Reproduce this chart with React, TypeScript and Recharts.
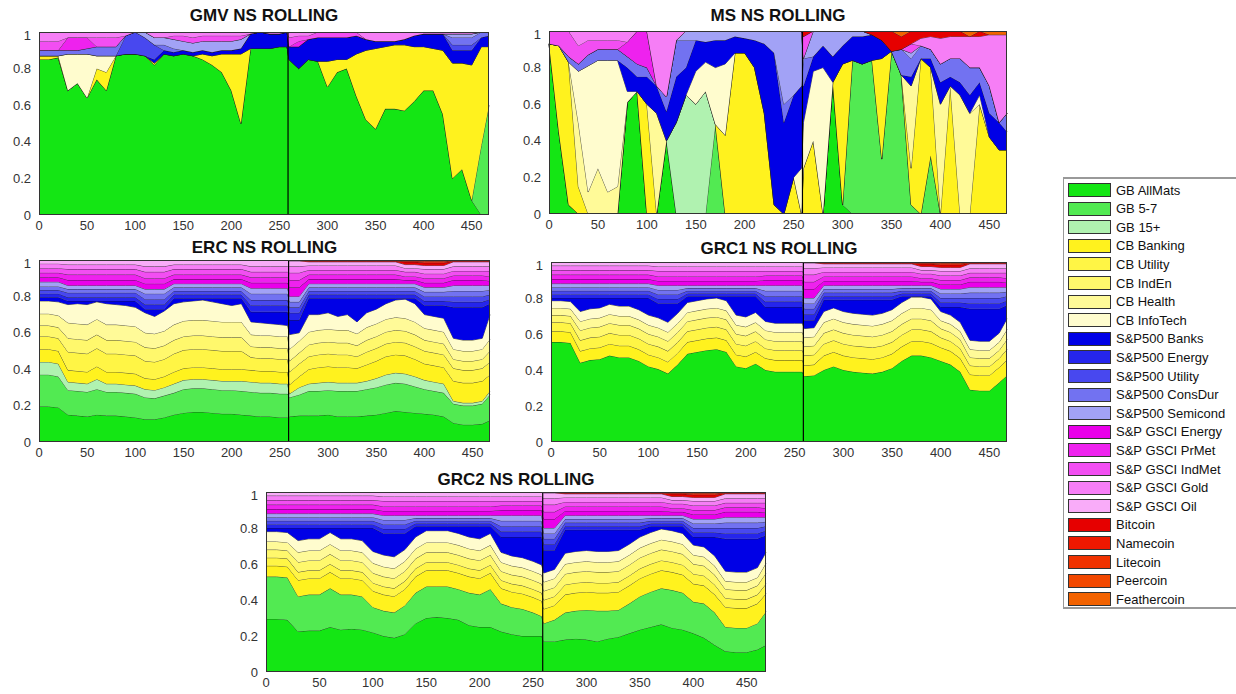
import React from 'react';
import { AreaChart, Area, XAxis, YAxis, ReferenceLine } from 'recharts';

const font = "'Liberation Sans', Arial, sans-serif";

// sample positions (window index); the break between the two samples is at 259
const steps = [0, 10, 20, 30, 40, 50, 60, 70, 80, 90, 100, 110, 120, 130, 140, 150, 160, 170, 180, 190, 200, 210, 220, 230, 240, 250, 258, 260, 270, 280, 290, 300, 310, 320, 330, 340, 350, 360, 370, 380, 390, 400, 410, 420, 430, 440, 450, 460, 468];
const xTicks = [0, 50, 100, 150, 200, 250, 300, 350, 400, 450];
const yTicks = [0, 0.2, 0.4, 0.6, 0.8, 1];

const seriesNames = ['GB AllMats', 'GB 5-7', 'GB 15+', 'CB Banking', 'CB Utility', 'CB IndEn', 'CB Health', 'CB InfoTech', 'S&P500 Banks', 'S&P500 Energy', 'S&P500 Utility', 'S&P500 ConsDur', 'S&P500 Semicond', 'S&P GSCI Energy', 'S&P GSCI PrMet', 'S&P GSCI IndMet', 'S&P GSCI Gold', 'S&P GSCI Oil', 'Bitcoin', 'Namecoin', 'Litecoin', 'Peercoin', 'Feathercoin'];
const seriesColors = ['#14e614', '#52ea52', '#b0f2b0', '#fff21e', '#fff545', '#fff86c', '#fffa98', '#fffcce', '#0000e6', '#2525ec', '#4848ef', '#7272f1', '#a2a2f6', '#ea00ea', '#ee22ee', '#f24ef2', '#f67ef6', '#f9acf9', '#e60000', '#ee1800', '#f03200', '#f24800', '#f26200'];

// GMV weights (%)
const gmvAllMats = [85, 85, 86, 68, 72, 64, 74, 68, 87, 88, 88, 87, 82, 88, 87, 88, 87, 85, 82, 78, 68, 50, 91, 91, 91, 92, 92, 85, 80, 85, 84, 70, 78, 80, 65, 52, 47, 58, 58, 57, 62, 68, 68, 55, 20, 25, 8, 0, 0];
const gmvGb57 = [0, 0, 0, 0, 0, 0, 0, 0, 0, 0, 0, 0, 0, 0, 0, 0, 0, 0, 0, 0, 0, 0, 0, 0, 0, 0, 0, 0, 0, 0, 0, 0, 0, 0, 0, 0, 0, 0, 0, 0, 0, 0, 0, 0, 0, 0, 0, 38, 60];
const gmvBanking = [2, 2, 1, 0, 0, 0, 6, 10, 0, 0, 0, 0, 1, 0, 0, 0, 0, 3, 5, 10, 20, 38, 0, 0, 0, 0, 0, 0, 0, 0, 0, 14, 7, 5, 23, 38, 44, 34, 35, 36, 30, 24, 23, 35, 63, 58, 74, 54, 32];
const gmvInfoTech = [0, 0, 0, 20, 16, 24, 7, 9, 0, 0, 0, 0, 0, 0, 0, 0, 0, 0, 0, 0, 0, 0, 0, 0, 0, 0, 0, 0, 0, 0, 0, 0, 0, 0, 0, 0, 0, 0, 0, 0, 0, 0, 0, 0, 0, 0, 0, 0, 0];
const gmvSpBanks = [0, 0, 0, 0, 0, 0, 0, 0, 0, 0, 0, 0, 2, 2, 2, 2, 2, 2, 2, 2, 2, 3, 8, 9, 8, 7, 8, 7, 12, 11, 13, 13, 12, 12, 10, 6, 4, 3, 2, 3, 6, 7, 8, 9, 7, 7, 8, 5, 6];
const gmvSpUtility = [0, 0, 0, 0, 0, 0, 0, 0, 0, 10, 12, 10, 8, 0, 0, 0, 0, 0, 0, 0, 0, 0, 0, 0, 0, 0, 0, 0, 0, 0, 0, 0, 0, 0, 0, 0, 0, 0, 0, 0, 0, 0, 0, 0, 3, 3, 3, 0, 0];
const gmvSpConsDur = [3, 3, 3, 2, 2, 3, 5, 5, 5, 0, 0, 0, 0, 3, 2, 0, 0, 0, 0, 0, 0, 0, 0, 0, 0, 0, 0, 0, 0, 0, 0, 0, 0, 0, 0, 0, 0, 0, 0, 0, 0, 0, 0, 0, 4, 4, 4, 3, 2];
const gmvSpSemi = [0, 0, 0, 0, 0, 0, 0, 0, 0, 0, 0, 3, 4, 4, 5, 5, 5, 5, 6, 5, 5, 5, 0, 0, 0, 0, 0, 0, 0, 0, 0, 0, 0, 0, 0, 0, 0, 0, 0, 0, 0, 0, 0, 0, 2, 2, 2, 0, 0];
const gmvGsPrMet = [0, 0, 0, 7, 7, 6, 0, 0, 0, 0, 0, 0, 0, 0, 0, 0, 0, 0, 0, 0, 0, 0, 0, 0, 0, 0, 0, 0, 3, 0, 0, 0, 0, 0, 0, 0, 0, 0, 0, 0, 0, 0, 0, 0, 0, 0, 0, 0, 0];
const gmvGsIndMet = [5, 5, 5, 0, 0, 0, 5, 5, 5, 0, 0, 0, 0, 0, 2, 3, 3, 3, 3, 3, 3, 2, 0, 0, 0, 0, 0, 5, 3, 2, 3, 3, 3, 3, 2, 0, 0, 0, 0, 0, 0, 0, 0, 0, 0, 0, 0, 0, 0];
const gmvGsGold = [5, 5, 5, 3, 3, 3, 3, 3, 3, 2, 0, 0, 3, 3, 2, 2, 3, 2, 2, 2, 2, 2, 1, 0, 1, 1, 0, 3, 2, 2, 0, 0, 0, 0, 0, 4, 5, 5, 5, 4, 2, 1, 1, 1, 1, 1, 1, 0, 0];

// MS weights (%)
const msAllMats = [93, 45, 5, 0, 0, 0, 0, 0, 61, 67, 0, 0, 40, 0, 0, 0, 0, 0, 0, 0, 0, 0, 0, 0, 0, 0, 0, 0, 0, 0, 72, 5, 0, 0, 0, 0, 0, 0, 0, 0, 0, 0, 0, 0, 0, 0, 0, 0, 0];
const msGb57 = [0, 0, 0, 0, 0, 0, 0, 0, 0, 0, 0, 0, 0, 0, 0, 0, 0, 49, 0, 0, 0, 0, 0, 0, 0, 0, 0, 0, 0, 0, 0, 0, 84, 82, 84, 30, 89, 76, 5, 0, 32, 0, 0, 0, 0, 0, 0, 0, 0];
const msGb15 = [0, 0, 0, 0, 0, 0, 0, 0, 0, 0, 0, 0, 0, 50, 65, 60, 67, 0, 0, 0, 0, 0, 0, 0, 0, 0, 0, 0, 0, 0, 0, 0, 0, 0, 0, 0, 0, 0, 0, 0, 0, 0, 0, 0, 0, 0, 0, 0, 0];
const msBanking = [0, 47, 78, 15, 0, 0, 0, 0, 0, 0, 60, 0, 0, 0, 0, 0, 0, 0, 43, 88, 88, 80, 55, 5, 0, 20, 0, 25, 40, 0, 0, 77, 0, 0, 0, 55, 0, 0, 20, 85, 48, 0, 70, 0, 0, 60, 42, 35, 35];
const msHealth = [0, 0, 0, 35, 12, 25, 12, 15, 0, 0, 0, 55, 0, 0, 0, 0, 0, 0, 0, 0, 0, 0, 0, 0, 0, 0, 0, 0, 0, 0, 0, 0, 0, 0, 0, 0, 0, 0, 45, 0, 0, 60, 0, 65, 55, 0, 0, 0, 0];
const msInfoTech = [0, 0, 0, 28, 69, 59, 72, 69, 6, 0, 0, 0, 0, 0, 0, 18, 16, 31, 39, 0, 0, 0, 0, 0, 0, 0, 25, 25, 38, 80, 0, 0, 0, 0, 0, 0, 0, 0, 0, 0, 0, 0, 0, 0, 0, 5, 0, 0, 0];
const msSpBanks = [0, 0, 0, 0, 0, 0, 0, 0, 13, 8, 15, 15, 16, 25, 15, 17, 11, 15, 13, 9, 8, 15, 38, 83, 50, 45, 45, 20, 8, 12, 14, 10, 13, 15, 14, 10, 0, 0, 5, 0, 5, 12, 5, 7, 10, 7, 13, 15, 10];
const msSpConsDur = [0, 0, 3, 4, 6, 6, 6, 6, 6, 7, 5, 0, 8, 20, 15, 0, 0, 0, 0, 0, 0, 0, 0, 0, 10, 0, 0, 15, 0, 0, 0, 0, 0, 0, 0, 0, 0, 14, 10, 7, 5, 10, 10, 13, 15, 8, 15, 0, 10];
const msSpSemi = [0, 0, 0, 0, 0, 0, 0, 0, 0, 0, 0, 0, 0, 0, 5, 5, 6, 5, 5, 3, 4, 5, 7, 12, 40, 35, 30, 0, 14, 8, 14, 8, 3, 3, 0, 0, 0, 0, 3, 0, 0, 0, 0, 0, 0, 0, 0, 0, 0];
const msGsPrMet = [0, 0, 0, 0, 0, 0, 0, 0, 8, 18, 20, 0, 0, 0, 0, 0, 0, 0, 0, 0, 0, 0, 0, 0, 0, 0, 0, 0, 0, 0, 0, 0, 0, 0, 0, 0, 0, 0, 0, 0, 0, 0, 0, 0, 0, 0, 0, 0, 0];
const msGsIndMet = [7, 8, 14, 10, 8, 5, 5, 5, 0, 0, 0, 0, 0, 0, 0, 0, 0, 0, 0, 0, 0, 0, 0, 0, 0, 0, 0, 12, 0, 0, 0, 0, 0, 0, 0, 0, 0, 0, 5, 0, 0, 0, 0, 0, 0, 0, 0, 0, 0];
const msGsGold = [0, 0, 0, 8, 5, 5, 5, 5, 6, 0, 0, 30, 36, 5, 0, 0, 0, 0, 0, 0, 0, 0, 0, 0, 0, 0, 0, 0, 0, 0, 0, 0, 0, 0, 0, 0, 0, 0, 0, 4, 7, 14, 12, 12, 17, 17, 28, 48, 43];
const msBitcoin = [0, 0, 0, 0, 0, 0, 0, 0, 0, 0, 0, 0, 0, 0, 0, 0, 0, 0, 0, 0, 0, 0, 0, 0, 0, 0, 0, 3, 0, 0, 0, 0, 0, 0, 2, 5, 11, 7, 7, 4, 3, 4, 3, 3, 0, 3, 0, 0, 0];
const msFeathercoin = [0, 0, 0, 0, 0, 0, 0, 0, 0, 0, 0, 0, 0, 0, 0, 0, 0, 0, 0, 0, 0, 0, 0, 0, 0, 0, 0, 0, 0, 0, 0, 0, 0, 0, 0, 0, 0, 3, 0, 0, 0, 0, 0, 0, 3, 0, 2, 2, 2];

// ERC weights (%)
const ercAllMats = [19.5, 19.5, 19, 15, 14.5, 14, 15, 14.5, 14.5, 14, 13.5, 12.5, 12.5, 13.5, 15, 16, 16.5, 16.5, 16, 15.5, 15.5, 15, 14.5, 14, 14, 13.5, 13.5, 14, 14.5, 14.5, 14.5, 15, 14, 14, 14, 14.5, 15, 16, 17, 16.5, 16, 15.5, 15, 14, 10.5, 9.5, 9.5, 10, 12];
const ercGb57 = [17.5, 17.5, 17, 13.5, 13.5, 13.5, 14, 13, 13, 13, 13, 12, 11.5, 12, 12, 13, 13, 13, 13, 13, 13, 13, 13, 13, 13, 13, 13, 10.5, 11.5, 13.5, 13.5, 13.5, 14, 14, 14, 14.5, 15, 15.5, 15.5, 15.5, 14.5, 13.5, 13, 13, 10.5, 10.5, 10.5, 11, 14];
const ercGb15 = [7, 7, 7, 4.5, 4.5, 4.5, 5.5, 4.5, 4.5, 4.5, 4.5, 4.5, 4.5, 4.5, 5, 5, 5, 5, 5, 5, 5, 5.5, 5.5, 5.5, 5.5, 5.5, 5.5, 2, 4, 4, 4.5, 4.5, 4.5, 4.5, 4.5, 4.5, 5, 5.5, 5.5, 5.5, 5.5, 5, 5, 5, 1.5, 1.5, 1.5, 1.5, 2];
const ercBanking = [7, 7, 7, 6.5, 6.5, 6.5, 7, 6.5, 6.5, 6.5, 6.5, 6, 6, 6, 6.5, 6.5, 6.5, 6.5, 6.5, 6.5, 6.5, 6.5, 6.5, 6.5, 6.5, 6.5, 6.5, 5, 6, 8, 8.5, 8.5, 8.5, 8.5, 8, 9, 9.5, 10, 10, 10, 9.5, 9, 9, 9, 11, 11, 11, 11, 9];
const ercUtility = [7, 7, 7, 10, 10, 10, 10, 10, 10, 10, 10, 9.5, 9.5, 9.5, 10, 10, 10, 10, 10, 10, 10, 10, 7, 7, 7, 7, 7, 7, 7, 7, 7, 7, 7, 7, 6.5, 7, 7, 7, 7, 7, 7, 7, 7, 7, 7, 7, 7, 7, 7];
const ercIndEn = [6, 6, 6, 7.5, 7.5, 7.5, 7.5, 7.5, 7.5, 7.5, 7.5, 7.5, 7.5, 7.5, 7.5, 7.5, 7.5, 7.5, 7.5, 7.5, 7.5, 7.5, 6, 6, 6, 6, 6, 6, 6, 6.5, 6.5, 6.5, 6.5, 6.5, 6, 6.5, 6.5, 6.5, 6.5, 6.5, 6.5, 6, 6, 6, 5, 5, 5, 5, 6];
const ercHealth = [6.5, 6.5, 6.5, 8.5, 8.5, 8.5, 8.5, 8.5, 8.5, 8.5, 8.5, 8, 8, 8, 8.5, 8.5, 8.5, 8.5, 8.5, 8.5, 8.5, 8.5, 6.5, 6.5, 6.5, 6.5, 6.5, 6.5, 6.5, 7, 7, 7, 7, 7, 6.5, 7, 7, 7, 7, 7, 7, 6.5, 6.5, 6.5, 5.5, 5.5, 5.5, 5.5, 6.5];
const ercInfoTech = [7, 7, 7.5, 10, 11, 11, 9.5, 11.5, 11, 11, 10.5, 11, 9.5, 11, 11.5, 10.5, 10.5, 11, 10.5, 10, 9, 10, 7, 7, 6.5, 6.5, 6, 8, 4.5, 9.5, 8.5, 9, 7.5, 8.5, 6.5, 8, 8, 8.5, 9.5, 10.5, 10, 7.5, 7.5, 7.5, 6, 6, 6, 6, 13.5];
const ercSpBanks = [2, 2, 2.5, 2, 1.5, 2, 0.5, 1.5, 2, 2.5, 3.5, 2, 4, 1, 3, 2, 1.5, 1, 2, 3, 4, 3, 5.5, 6, 6.5, 7, 7.5, 8, 7, 9, 9, 8, 10, 9, 13, 8, 6, 3, 1, 0.5, 3, 5, 6, 7, 17, 18, 18, 17, 6];
const ercSpEnergy = [2, 2, 2, 2, 2, 2, 2, 2, 2, 2, 2, 2.5, 2.5, 2.5, 2, 2, 2, 2, 2, 2, 2, 2, 3.5, 3.5, 3.5, 3.5, 3.5, 4, 4, 2, 2, 2, 2, 2, 2, 2, 2, 2, 2, 2, 2, 2.5, 2.5, 2.5, 3, 3, 3, 3, 2.5];
const ercSpUtility = [2, 2, 2, 2.5, 2.5, 2.5, 2.5, 2.5, 2.5, 2.5, 2.5, 3, 3, 3, 2, 2, 2, 2, 2, 2, 2, 2, 3, 3, 3, 3, 3, 3, 3, 2, 2, 2, 2, 2, 2, 2, 2, 2, 2, 2, 2, 2.5, 2.5, 2.5, 3, 3, 3, 3, 2.5];
const ercSpConsDur = [2, 2, 2, 2, 2, 2, 2, 2, 2, 2, 2, 3, 3, 3, 2, 2, 2, 2, 2, 2, 2, 2, 3.5, 3.5, 3.5, 3.5, 3.5, 3, 3, 2, 2, 2, 2, 2, 2, 2, 2, 2, 2, 2, 2, 2.5, 2.5, 2.5, 3, 3, 3, 3, 2.5];
const ercSpSemi = [2.5, 2.5, 2.5, 2, 2, 2, 2, 2, 2, 2, 2, 2.5, 2.5, 2.5, 2, 2, 2, 2, 2, 2, 2, 2, 3, 3, 3, 3, 3, 3, 3, 2, 2, 2, 2, 2, 2, 2, 2, 2, 2, 2, 2, 2.5, 2.5, 2.5, 3, 3, 3, 3, 2.5];
const ercGsEnergy = [2.5, 2.5, 2.5, 3, 3, 3, 3, 3, 3, 3, 3, 3, 3, 3, 2.5, 2.5, 2.5, 2.5, 2.5, 2.5, 2.5, 2.5, 3, 3, 3, 3, 3, 5, 5, 2.5, 2.5, 2.5, 2.5, 2.5, 2.5, 2.5, 2.5, 2.5, 2.5, 2, 2, 2.5, 2.5, 2.5, 3, 3, 3, 3, 2.5];
const ercGsPrMet = [2.5, 2.5, 2.5, 3, 3, 3, 3, 3, 3, 3, 3, 3, 3, 3, 2.5, 2.5, 2.5, 2.5, 2.5, 2.5, 2.5, 2.5, 3, 3, 3, 3, 3, 4, 4, 2.5, 2.5, 2.5, 2.5, 2.5, 2.5, 2.5, 2.5, 2.5, 2.5, 2, 2, 2.5, 2.5, 2.5, 2.5, 2.5, 2.5, 2.5, 2.5];
const ercGsIndMet = [2.5, 2.5, 2.5, 3, 3, 3, 3, 3, 3, 3, 3, 3.5, 3.5, 3.5, 3, 3, 3, 3, 3, 3, 3, 3, 3, 3, 3, 3, 3, 4, 4, 2.5, 2.5, 2.5, 2.5, 2.5, 2.5, 2.5, 2.5, 2.5, 2.5, 2.5, 2.5, 2.5, 2.5, 2.5, 2.5, 2.5, 2.5, 2.5, 3];
const ercGsGold = [2.5, 2.5, 2.5, 2.5, 2.5, 2.5, 2.5, 2.5, 2.5, 2.5, 2.5, 3, 3, 3, 2.5, 2.5, 2.5, 2.5, 2.5, 2.5, 2.5, 2.5, 3, 3, 3, 3, 3, 3.5, 3.5, 2.5, 2.5, 2.5, 2.5, 2.5, 2.5, 2.5, 2.5, 2.5, 2.5, 2, 2, 2.5, 2.5, 2.5, 2.5, 2.5, 2.5, 2.5, 2.5];
const ercGsOil = [2, 2, 2, 2.5, 2.5, 2.5, 2.5, 2.5, 2.5, 2.5, 2.5, 3.5, 3.5, 3.5, 2.5, 2.5, 2.5, 2.5, 2.5, 2.5, 2.5, 2.5, 3.5, 3.5, 3.5, 3.5, 3.5, 3, 3, 2, 2, 2, 2, 2, 2, 2, 2, 2, 2, 2, 2, 2, 2, 2, 2.5, 2.5, 2.5, 2.5, 2.5];

// crypto weights, same reading for the ERC / GRC panels (%)
const rollBitcoin = [0, 0, 0, 0, 0, 0, 0, 0, 0, 0, 0, 0, 0, 0, 0, 0, 0, 0, 0, 0, 0, 0, 0, 0, 0, 0, 0, 0.5, 0.5, 0.5, 0.5, 0.5, 0.5, 0.5, 0.5, 0.5, 0.5, 0.5, 0.5, 1.5, 1.5, 1.5, 1.5, 1.5, 0.5, 0.5, 0.5, 0.5, 0.5];
const rollNamecoin = [0, 0, 0, 0, 0, 0, 0, 0, 0, 0, 0, 0, 0, 0, 0, 0, 0, 0, 0, 0, 0, 0, 0, 0, 0, 0, 0, 0, 0, 0.3, 0.3, 0.3, 0.3, 0.3, 0.3, 0.3, 0.3, 0.3, 0.3, 0.5, 0.5, 0.7, 0.7, 0.7, 0.3, 0.3, 0.3, 0.3, 0.3];
const rollLitecoin = [0, 0, 0, 0, 0, 0, 0, 0, 0, 0, 0, 0, 0, 0, 0, 0, 0, 0, 0, 0, 0, 0, 0, 0, 0, 0, 0, 0, 0, 0.2, 0.2, 0.2, 0.2, 0.2, 0.2, 0.2, 0.2, 0.2, 0.2, 0.3, 0.3, 0.5, 0.5, 0.5, 0.2, 0.2, 0.2, 0.2, 0.2];
const rollPeercoin = [0, 0, 0, 0, 0, 0, 0, 0, 0, 0, 0, 0, 0, 0, 0, 0, 0, 0, 0, 0, 0, 0, 0, 0, 0, 0, 0, 0, 0, 0, 0, 0, 0, 0, 0, 0, 0, 0, 0, 0.2, 0.2, 0.3, 0.3, 0.3, 0, 0, 0, 0, 0];

// thin top bands, same reading for GRC1 and GRC2 (%)
const grcSpEnergy = [2, 2, 2, 2, 2, 2, 2, 2, 2, 2, 2, 2.5, 2.5, 2.5, 1.5, 1.5, 1.5, 1.5, 1.5, 1.5, 1.5, 1.5, 3, 3, 3, 3, 3, 3.5, 3.5, 2, 2, 2, 2, 2, 2, 2, 2, 1.5, 1.5, 1.5, 1.5, 2.5, 2.5, 2.5, 3, 3, 3, 3, 2.5];
const grcSpThin = [2, 2, 2, 2, 2, 2, 2, 2, 2, 2, 2, 2.5, 2.5, 2.5, 1.5, 1.5, 1.5, 1.5, 1.5, 1.5, 1.5, 1.5, 3, 3, 3, 3, 3, 3, 3, 2, 2, 2, 2, 2, 2, 2, 2, 1.5, 1.5, 1.5, 1.5, 2.5, 2.5, 2.5, 3, 3, 3, 3, 2.5];
const grcGsEnergy = [2.5, 2.5, 2.5, 2.5, 2.5, 2.5, 2.5, 2.5, 2.5, 2.5, 2.5, 2.5, 2.5, 2.5, 2.5, 2.5, 2.5, 2.5, 2.5, 2.5, 2.5, 2.5, 3, 3, 3, 3, 3, 5, 5, 2.5, 2.5, 2.5, 2.5, 2.5, 2.5, 2.5, 2.5, 2.5, 2.5, 2, 2, 2.5, 2.5, 2.5, 3, 3, 3, 3, 2.5];
const grcGsPrMet = [2.5, 2.5, 2.5, 2.5, 2.5, 2.5, 2.5, 2.5, 2.5, 2.5, 2.5, 2.5, 2.5, 2.5, 2.5, 2.5, 2.5, 2.5, 2.5, 2.5, 2.5, 2.5, 2.5, 2.5, 2.5, 2.5, 2.5, 4, 4, 2.5, 2.5, 2.5, 2.5, 2.5, 2.5, 2.5, 2.5, 2.5, 2.5, 2, 2, 2.5, 2.5, 2.5, 2.5, 2.5, 2.5, 2.5, 2.5];
const grcGsIndMet = [2.5, 2.5, 2.5, 2.5, 2.5, 2.5, 2.5, 2.5, 2.5, 2.5, 2.5, 3, 3, 3, 3, 3, 3, 3, 3, 3, 3, 3, 2.5, 2.5, 2.5, 2.5, 2.5, 4, 4, 2.5, 2.5, 2.5, 2.5, 2.5, 2.5, 2.5, 2.5, 2.5, 2.5, 2.5, 2.5, 2.5, 2.5, 2.5, 2.5, 2.5, 2.5, 2.5, 3];
const grcGsGold = [2.5, 2.5, 2.5, 2.5, 2.5, 2.5, 2.5, 2.5, 2.5, 2.5, 2.5, 2.5, 2.5, 2.5, 2.5, 2.5, 2.5, 2.5, 2.5, 2.5, 2.5, 2.5, 2.5, 2.5, 2.5, 2.5, 2.5, 3.5, 3.5, 2.5, 2.5, 2.5, 2.5, 2.5, 2.5, 2.5, 2.5, 2.5, 2.5, 2, 2, 2.5, 2.5, 2.5, 2.5, 2.5, 2.5, 2.5, 2.5];
const grcGsOil = [2, 2, 2, 2, 2, 2, 2, 2, 2, 2, 2, 2.5, 2.5, 2.5, 2.5, 2.5, 2.5, 2.5, 2.5, 2.5, 2.5, 2.5, 2.5, 2.5, 2.5, 2.5, 2.5, 3, 3, 2, 2, 2, 2, 2, 2, 2, 2, 2, 2, 2, 2, 2, 2, 2, 2.5, 2.5, 2.5, 2.5, 2.5];

// GRC1 weights (%)
const grc1AllMats = [55.5, 55.5, 55, 44, 45.5, 46, 48, 47, 47, 45, 42, 40.5, 38, 43, 49, 50, 51, 51.5, 50, 42, 41, 43.5, 40, 39, 39, 39, 39, 36.5, 37, 40, 42, 40, 39, 38.5, 38, 39, 41, 45, 48, 48, 47, 45, 43, 39, 29, 28.5, 28.5, 33, 37];
const grc1Banking = [6, 6, 6, 6.5, 6.5, 6.5, 6.5, 6.5, 6.5, 6.5, 6.5, 6.5, 6.5, 6.5, 6.5, 6.5, 6.5, 6.5, 6.5, 6.5, 6.5, 6.5, 6.5, 6.5, 6.5, 6.5, 6.5, 6, 6, 8, 8, 8, 8, 8, 8, 8, 8, 8, 8, 8, 8, 7.5, 7.5, 7.5, 8.5, 8.5, 8.5, 8.5, 8.5];
const grc1Utility = [5, 5, 5, 6, 6, 6, 6, 6, 6, 6, 6, 6, 6, 6, 6, 6, 6, 6, 6, 6, 6, 6, 5.5, 5.5, 5.5, 5.5, 5.5, 5.5, 5.5, 6.5, 6.5, 6.5, 6.5, 6.5, 6.5, 6.5, 6.5, 6.5, 6.5, 6.5, 6.5, 5.5, 5.5, 5.5, 5, 5, 5, 5, 6];
const grc1IndEn = [4, 4, 4, 5.5, 5.5, 5.5, 5.5, 5.5, 5.5, 5.5, 5.5, 5.5, 5.5, 5.5, 5.5, 5.5, 5.5, 5.5, 5.5, 5.5, 5.5, 5.5, 5, 5, 5, 5, 5, 5, 5, 6, 6, 6, 6, 6, 6, 6, 6, 6, 6, 6, 6, 5, 5, 5, 4.5, 4.5, 4.5, 4.5, 5.5];
const grc1Health = [4, 4, 4, 5, 5, 5, 5, 5, 5, 5, 5, 5, 5, 5, 5, 5, 5, 5, 5, 5, 5, 5, 5, 5, 5, 5, 5, 5, 5, 6, 6, 6, 6, 6, 6, 6, 6, 6, 6, 6, 6, 4.5, 4.5, 4.5, 4.5, 4.5, 4.5, 4.5, 5.5];
const grc1InfoTech = [4, 4, 4, 5.5, 5.5, 5.5, 5.5, 5.5, 5.5, 5.5, 5.5, 5.5, 5.5, 5.5, 5.5, 5.5, 5.5, 5.5, 5.5, 5.5, 5.5, 5.5, 5, 5, 5, 5, 5, 5, 5, 6, 6, 6, 6, 6, 6, 6, 6, 6, 6, 6, 6, 5, 5, 5, 5, 5, 5, 5, 6];
const grc1SpBanks = [1.5, 1.5, 2, 7.5, 6, 5.5, 3.5, 4.5, 4.5, 6.5, 9.5, 8, 10.5, 5.5, 3.5, 2.5, 1.5, 1, 2.5, 10.5, 11.5, 9, 8, 9, 9, 9, 9, 4.5, 4, 6.5, 4.5, 6.5, 7.5, 8, 8.5, 7.5, 5.5, 3.5, 0.5, 0.5, 1.5, 2.5, 4.5, 8.5, 17.5, 18, 18, 13.5, 7.5];

// GRC2 weights (%)
const grc2AllMats = [29.5, 29.5, 29, 22.5, 23, 23, 25, 23.5, 24, 23.5, 22, 20, 19, 21, 27, 30, 30.5, 30, 29, 26, 25, 25, 22.5, 21, 20, 20, 20, 17, 17, 18, 18.5, 18, 17, 18.5, 19.5, 21.5, 23.5, 25, 26.5, 24.5, 23.5, 21.5, 19, 15, 11.5, 11, 11, 12.5, 15];
const grc2Gb57 = [23.5, 23.5, 23.5, 19.5, 20, 20, 21.5, 19.5, 19, 18.5, 14, 14, 14, 16, 17, 17.5, 17, 17.5, 17, 18, 18, 21, 15.5, 15, 15, 13, 11, 10, 12, 15, 15.5, 16.5, 17, 15.5, 15, 16.5, 18.5, 19.5, 20, 21, 20.5, 17.5, 19, 18, 13.5, 13.5, 13.5, 14.5, 18.5];
const grc2Banking = [6, 6, 6, 9, 9, 9, 9, 9, 9, 9, 9, 9, 9, 9, 9, 9, 9, 9, 9, 9, 9, 9, 8.5, 8.5, 8.5, 8.5, 8.5, 8, 8, 10, 10, 10, 10, 10, 10, 10, 10, 10, 10, 10, 10, 10, 10, 10, 11, 11, 11, 11, 10];
const grc2Utility = [4.5, 4.5, 4.5, 4.5, 4.5, 4.5, 4.5, 4.5, 4.5, 4.5, 4.5, 4.5, 4.5, 4.5, 4.5, 4.5, 4.5, 4.5, 4.5, 4.5, 4.5, 4.5, 4.5, 4.5, 4.5, 4.5, 4.5, 5, 5, 5.5, 5.5, 5.5, 5.5, 5.5, 5.5, 5.5, 5.5, 5.5, 5.5, 5.5, 5.5, 5.5, 5.5, 5.5, 5, 5, 5, 5, 5.5];
const grc2IndEn = [4.5, 4.5, 4.5, 5.5, 5.5, 5.5, 5.5, 5.5, 5.5, 5.5, 5.5, 5.5, 5.5, 5.5, 5.5, 5.5, 5.5, 5.5, 5.5, 5.5, 5.5, 5.5, 5, 5, 5, 5, 5, 5, 5, 6, 6, 6, 6, 6, 6, 6, 6, 6, 6, 6, 6, 5.5, 5.5, 5.5, 5, 5, 5, 5, 6];
const grc2Health = [4.5, 4.5, 4.5, 5.5, 5.5, 5.5, 5.5, 5.5, 5.5, 5.5, 5.5, 5.5, 5.5, 5.5, 5.5, 5.5, 5.5, 5.5, 5.5, 5.5, 5.5, 5.5, 5, 5, 5, 5, 5, 5, 5, 5.5, 5.5, 5.5, 5.5, 5.5, 5.5, 5.5, 5.5, 5.5, 5.5, 5.5, 5.5, 5, 5, 5, 4.5, 4.5, 4.5, 4.5, 5.5];
const grc2InfoTech = [5.5, 5.5, 5.5, 6.5, 6.5, 6.5, 6.5, 6.5, 6.5, 6.5, 6.5, 6.5, 6.5, 6.5, 6.5, 6.5, 6.5, 6.5, 6.5, 6.5, 6.5, 6.5, 5.5, 5.5, 5.5, 5.5, 5.5, 5, 5, 6, 6, 6, 6, 6, 6, 6, 6, 6, 6, 6, 6, 5.5, 5.5, 5.5, 5.5, 5.5, 5.5, 5.5, 6];
const grc2SpBanks = [2, 2, 2.5, 7, 6, 6, 2.5, 6, 6, 7, 13, 12, 13, 9, 6, 2.5, 2.5, 2.5, 4, 6, 7, 4, 8.5, 10.5, 11.5, 13.5, 15.5, 12.5, 10.5, 13, 12, 11.5, 12, 12, 11.5, 8, 4, 3.5, 1.5, 2.5, 4, 4.5, 5.5, 10.5, 18, 18.5, 18.5, 16, 9.5];

const gmv: Record<string, number[]> = {
  'GB AllMats': gmvAllMats, 'GB 5-7': gmvGb57, 'CB Banking': gmvBanking, 'CB InfoTech': gmvInfoTech,
  'S&P500 Banks': gmvSpBanks, 'S&P500 Utility': gmvSpUtility, 'S&P500 ConsDur': gmvSpConsDur, 'S&P500 Semicond': gmvSpSemi,
  'S&P GSCI PrMet': gmvGsPrMet, 'S&P GSCI IndMet': gmvGsIndMet, 'S&P GSCI Gold': gmvGsGold,
};
const ms: Record<string, number[]> = {
  'GB AllMats': msAllMats, 'GB 5-7': msGb57, 'GB 15+': msGb15, 'CB Banking': msBanking, 'CB Health': msHealth, 'CB InfoTech': msInfoTech,
  'S&P500 Banks': msSpBanks, 'S&P500 ConsDur': msSpConsDur, 'S&P500 Semicond': msSpSemi,
  'S&P GSCI PrMet': msGsPrMet, 'S&P GSCI IndMet': msGsIndMet, 'S&P GSCI Gold': msGsGold, 'Bitcoin': msBitcoin, 'Feathercoin': msFeathercoin,
};
const erc: Record<string, number[]> = {
  'GB AllMats': ercAllMats, 'GB 5-7': ercGb57, 'GB 15+': ercGb15, 'CB Banking': ercBanking, 'CB Utility': ercUtility, 'CB IndEn': ercIndEn,
  'CB Health': ercHealth, 'CB InfoTech': ercInfoTech, 'S&P500 Banks': ercSpBanks, 'S&P500 Energy': ercSpEnergy, 'S&P500 Utility': ercSpUtility,
  'S&P500 ConsDur': ercSpConsDur, 'S&P500 Semicond': ercSpSemi, 'S&P GSCI Energy': ercGsEnergy, 'S&P GSCI PrMet': ercGsPrMet,
  'S&P GSCI IndMet': ercGsIndMet, 'S&P GSCI Gold': ercGsGold, 'S&P GSCI Oil': ercGsOil,
  'Bitcoin': rollBitcoin, 'Namecoin': rollNamecoin, 'Litecoin': rollLitecoin, 'Peercoin': rollPeercoin,
};
const grcTop: Record<string, number[]> = {
  'S&P500 Energy': grcSpEnergy, 'S&P500 Utility': grcSpThin, 'S&P500 ConsDur': grcSpThin, 'S&P500 Semicond': grcSpThin,
  'S&P GSCI Energy': grcGsEnergy, 'S&P GSCI PrMet': grcGsPrMet, 'S&P GSCI IndMet': grcGsIndMet, 'S&P GSCI Gold': grcGsGold, 'S&P GSCI Oil': grcGsOil,
  'Bitcoin': rollBitcoin, 'Namecoin': rollNamecoin, 'Litecoin': rollLitecoin, 'Peercoin': rollPeercoin,
};
const grc1: Record<string, number[]> = {
  'GB AllMats': grc1AllMats, 'CB Banking': grc1Banking, 'CB Utility': grc1Utility, 'CB IndEn': grc1IndEn, 'CB Health': grc1Health,
  'CB InfoTech': grc1InfoTech, 'S&P500 Banks': grc1SpBanks, ...grcTop,
};
const grc2: Record<string, number[]> = {
  'GB AllMats': grc2AllMats, 'GB 5-7': grc2Gb57, 'CB Banking': grc2Banking, 'CB Utility': grc2Utility, 'CB IndEn': grc2IndEn, 'CB Health': grc2Health,
  'CB InfoTech': grc2InfoTech, 'S&P500 Banks': grc2SpBanks, ...grcTop,
};

type PanelProps = {
  title: string;
  titleY: number;
  left: number;
  top: number;
  plotW: number;
  plotH: number;
  values: Record<string, number[]>;
};

const Panel = ({ title, titleY, left, top, plotW, plotH, values }: PanelProps) => {
  const shown = seriesNames.map((n, i) => ({ name: n, key: 'k' + i, color: seriesColors[i] })).filter(s => values[s.name]);
  const rows = steps.map((x, i) => {
    const row: Record<string, number> = { x };
    shown.forEach(s => { row[s.key] = values[s.name][i] / 100; });
    return row;
  });

  return (
    <>
      <div style={{ position: 'absolute', left, top: titleY - 10, width: plotW, lineHeight: '20px', textAlign: 'center', fontFamily: font, fontWeight: 'bold', fontSize: 17, color: '#111' }}>
        {title}
      </div>
      <div style={{ position: 'absolute', left: left - 40, top: top - 5 }}>
        <AreaChart width={plotW + 45} height={plotH + 29} data={rows} margin={{ top: 5, right: 5, bottom: 0, left: 0 }}>
          <XAxis type="number" dataKey="x" domain={[0, 468]} ticks={xTicks} axisLine={false} tickLine={false} tickSize={4} tickMargin={2} height={24}
            tick={{ fontSize: 13, fill: '#333', fontFamily: font }} />
          <YAxis type="number" domain={[0, 1]} ticks={yTicks} allowDataOverflow axisLine={false} tickLine={false} width={40}
            tick={{ fontSize: 13, fill: '#333', fontFamily: font }} />
          {shown.map(s => (
            <Area key={s.key} type="linear" dataKey={s.key} stackId="w" fill={s.color} fillOpacity={1}
              stroke="#1c1c1c" strokeWidth={0.7} dot={false} activeDot={false} isAnimationActive={false} />
          ))}
          <ReferenceLine x={259} stroke="#000" strokeWidth={1.2} />
        </AreaChart>
      </div>
      <div style={{ position: 'absolute', left, top, width: plotW, height: plotH, border: '1px solid #333', boxSizing: 'border-box', pointerEvents: 'none' }} />
    </>
  );
};

const LegendBox = () => (
  <div style={{ position: 'absolute', left: 1063, top: 177, width: 185, height: 428, borderLeft: '1px solid #999', borderTop: '2px solid #999', borderBottom: '2px solid #999', background: '#fff', fontFamily: font, fontSize: 13 }}>
    {seriesNames.map((n, i) => (
      <div key={n} style={{ position: 'absolute', left: 4, top: 4 + i * 18.6, height: 14, display: 'flex', alignItems: 'center' }}>
        <div style={{ width: 43, height: 14, background: seriesColors[i], border: '1px solid #333', boxSizing: 'border-box' }} />
        <span style={{ marginLeft: 5, color: '#111', whiteSpace: 'nowrap' }}>{n}</span>
      </div>
    ))}
  </div>
);

const App = () => (
  <div style={{ position: 'absolute', left: 0, top: 0, width: 1236, height: 694, overflow: 'hidden', background: '#fff' }}>
    <Panel title="GMV NS ROLLING" titleY={16} left={39} top={32} plotW={450} plotH={183} values={gmv} />
    <Panel title="MS NS ROLLING" titleY={16} left={549} top={31} plotW={458} plotH={183} values={ms} />
    <Panel title="ERC NS ROLLING" titleY={248} left={39} top={260} plotW={451} plotH={182} values={erc} />
    <Panel title="GRC1 NS ROLLING" titleY={249} left={551} top={262} plotW={456} plotH={180} values={grc1} />
    <Panel title="GRC2 NS ROLLING" titleY={480} left={266} top={492} plotW={500} plotH={180} values={grc2} />
    <LegendBox />
  </div>
);

export default App;
